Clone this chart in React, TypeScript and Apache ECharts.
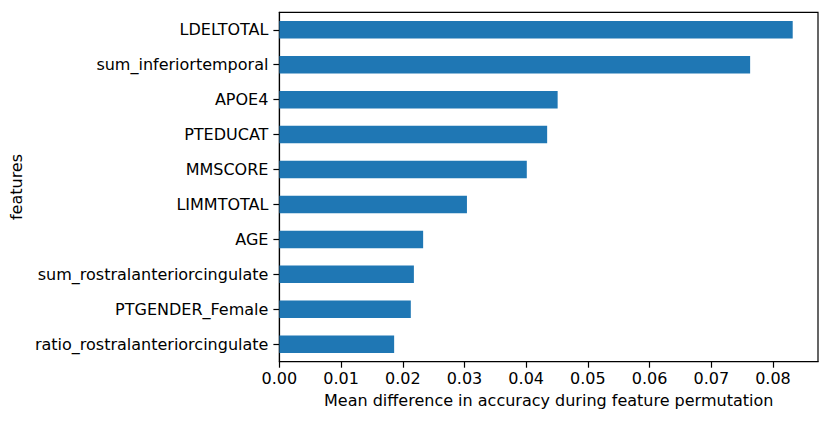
import React, { useEffect, useRef } from "react";
import * as echarts from "echarts";

const features = [
  "LDELTOTAL",
  "sum_inferiortemporal",
  "APOE4",
  "PTEDUCAT",
  "MMSCORE",
  "LIMMTOTAL",
  "AGE",
  "sum_rostralanteriorcingulate",
  "PTGENDER_Female",
  "ratio_rostralanteriorcingulate",
];
const importance = [0.0832, 0.0763, 0.0451, 0.0434, 0.0401, 0.0304, 0.0233, 0.0218, 0.0213, 0.0186];
const xTicks = [0, 0.01, 0.02, 0.03, 0.04, 0.05, 0.06, 0.07, 0.08];
const xTitle = "Mean difference in accuracy during feature permutation";
const yTitle = "features";

const FONT = "DejaVu Sans";

export default function App() {
  const ref = useRef<HTMLDivElement>(null);
  useEffect(() => {
    if (!ref.current) return;
    const chart = echarts.init(ref.current, undefined, { renderer: "svg" });
    chart.setOption({
      animation: false,
      backgroundColor: "#ffffff",
      textStyle: { fontFamily: FONT },
      grid: {
        left: 279.3,
        top: 12.3,
        right: 12,
        bottom: 60.3,
        show: true,
        borderColor: "#000000",
        borderWidth: 1.2,
        backgroundColor: "transparent",
      },
      xAxis: {
        type: "value",
        min: 0,
        max: 0.0873,
        interval: 0.01,
        name: xTitle,
        nameLocation: "middle",
        nameGap: 31,
        nameTextStyle: { color: "#000", fontSize: 16, fontFamily: FONT },
        splitLine: { show: false },
        axisLine: { show: true, lineStyle: { color: "#000", width: 1.2 } },
        axisTick: {
          show: true,
          length: 6,
          lineStyle: { color: "#000", width: 1.2 },
          customValues: xTicks,
        },
        axisLabel: {
          color: "#000",
          fontSize: 16,
          fontFamily: FONT,
          margin: 9,
          customValues: xTicks,
          formatter: (v: number) => v.toFixed(2),
        },
      },
      yAxis: {
        type: "category",
        data: features,
        inverse: true,
        name: yTitle,
        nameLocation: "middle",
        nameGap: 249,
        nameTextStyle: { color: "#000", fontSize: 16, fontFamily: FONT },
        axisLine: { show: true, lineStyle: { color: "#000", width: 1.2 } },
        axisTick: {
          show: true,
          length: 6,
          alignWithLabel: true,
          lineStyle: { color: "#000", width: 1.2 },
        },
        axisLabel: { color: "#000", fontSize: 16, fontFamily: FONT, margin: 11 },
        splitLine: { show: false },
      },
      series: [
        {
          type: "bar",
          data: importance,
          barWidth: "50%",
          itemStyle: { color: "#1f77b4" },
        },
      ],
    });
    return () => chart.dispose();
  }, []);
  return (
    <div
      ref={ref}
      style={{ position: "fixed", left: 0, top: 0, width: 830, height: 422, background: "#fff" }}
    />
  );
}
